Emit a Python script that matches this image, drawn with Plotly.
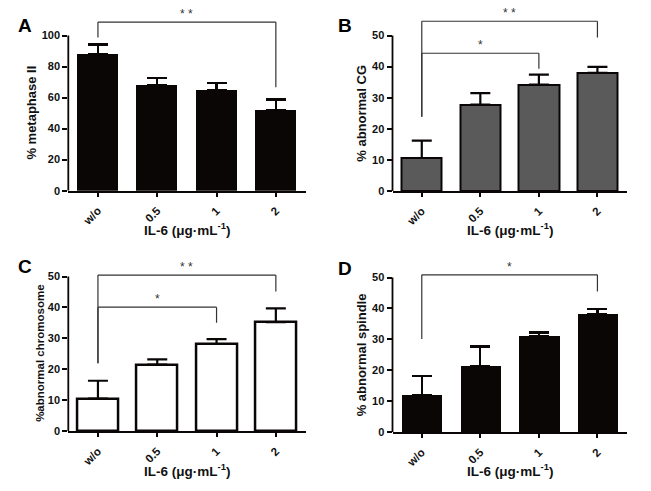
import plotly.graph_objects as go

# ---------------- data ----------------
categories = ["w/o", "0.5", "1", "2"]

a_values = [88.0, 68.2, 64.8, 52.2]
a_errors = [6.3, 4.2, 4.8, 6.6]

b_values = [10.6, 27.8, 34.2, 38.0]
b_errors = [5.6, 3.7, 3.2, 1.9]

c_values = [10.5, 21.5, 28.2, 35.3]
c_errors = [5.8, 1.7, 1.6, 4.4]

d_values = [11.9, 21.3, 31.0, 38.1]
d_errors = [6.2, 6.4, 1.2, 1.8]

a_ticks = [0, 20, 40, 60, 80, 100]
bcd_ticks = [0, 10, 20, 30, 40, 50]

# significance brackets: (from, to, bracket height, left end, right end, label)
a_sig = [(0, 3, 108.7, 98.7, 66.7, "* *")]
b_sig = [(0, 3, 54.6, 23.9, 49.4, "* *"), (0, 2, 44.3, 23.9, 39.3, "*")]
c_sig = [(0, 3, 50.5, 22.0, 45.2, "* *"), (0, 2, 40.1, 22.0, 35.1, "*")]
d_sig = [(0, 3, 50.9, 30.1, 45.5, "*")]

# ---------------- layout helpers ----------------
W, H = 651, 491
FONT = "Liberation Sans, Arial, sans-serif"


def px_x(p):
    return p / W


def px_y(p):
    return 1 - p / H


panels = [
    dict(key="A", values=a_values, errors=a_errors, ticks=a_ticks, sig=a_sig,
         fill="#0a0606", line="#0a0606", lw=0,
         x0=68.3, x1=305.5, ybot=193.0, ymaxpx=36.0, top=4.0,
         ytitle="% metaphase II", ytitle_x=31.5, ytfs=13,
         letter_xy=(24.5, 25.5), xtitle_y=232),
    dict(key="B", values=b_values, errors=b_errors, ticks=bcd_ticks, sig=b_sig,
         fill="#5a5a5a", line="#0a0606", lw=2,
         x0=392.5, x1=626.7, ybot=193.3, ymaxpx=36.0, top=4.0,
         ytitle="% abnormal CG", ytitle_x=361.5, ytfs=13,
         letter_xy=(345, 25.5), xtitle_y=232),
    dict(key="C", values=c_values, errors=c_errors, ticks=bcd_ticks, sig=c_sig,
         fill="#ffffff", line="#0a0606", lw=2.5,
         x0=68.3, x1=305.5, ybot=436.5, ymaxpx=280.0, top=248.0,
         ytitle="%abnormal chromosome", ytitle_x=40, ytfs=11.5,
         letter_xy=(25, 270), xtitle_y=476),
    dict(key="D", values=d_values, errors=d_errors, ticks=bcd_ticks, sig=d_sig,
         fill="#0a0606", line="#0a0606", lw=0,
         x0=392.5, x1=626.7, ybot=437.5, ymaxpx=281.0, top=248.0,
         ytitle="% abnormal spindle", ytitle_x=361.5, ytfs=13,
         letter_xy=(345, 271.5), xtitle_y=476),
]

fig = go.Figure()
annotations = []
shapes = []
xpos = list(range(len(categories)))

for i, p in enumerate(panels):
    n = "" if i == 0 else str(i + 1)
    xa, ya = "x" + n, "y" + n
    ymax = p["ticks"][-1]
    ppu = (p["ybot"] - p["ymaxpx"]) / ymax
    rtop = (p["ybot"] - p["top"]) / ppu

    fig.add_trace(go.Bar(
        x=xpos, y=p["values"], width=0.69,
        marker=dict(color=p["fill"], line=dict(color=p["line"], width=p["lw"])),
        error_y=dict(type="data", symmetric=False, array=p["errors"],
                     arrayminus=[0] * len(p["values"]),
                     color="#0a0606", thickness=2.2, width=10),
        xaxis=xa, yaxis=ya, showlegend=False, hoverinfo="skip",
    ))

    fig.layout["xaxis" + n] = dict(
        domain=[px_x(p["x0"]), px_x(p["x1"])], anchor=ya,
        range=[-0.5, 3.5], tickvals=xpos, ticktext=categories,
        tickangle=-45, ticks="outside", ticklen=4, tickwidth=1.5,
        tickcolor="#0a0606", showline=True, linecolor="#0a0606", linewidth=1.8,
        showgrid=False, zeroline=False, fixedrange=True, ticklabelstandoff=3,
        tickfont=dict(family=FONT, size=11.5, color="#111", weight="bold"),
    )
    fig.layout["yaxis" + n] = dict(
        domain=[px_y(p["ybot"]), px_y(p["top"])], anchor=xa,
        range=[0, rtop], tickvals=p["ticks"], ticks="outside", ticklen=5,
        tickwidth=1.5, tickcolor="#0a0606", showline=False,
        showgrid=False, zeroline=False, fixedrange=True,
        tickfont=dict(family=FONT, size=11, color="#111", weight="bold"),
    )
    # y-axis line only up to top tick
    shapes.append(dict(type="line", xref=xa + " domain", yref=ya,
                       x0=0, x1=0, y0=0, y1=ymax,
                       line=dict(color="#0a0606", width=1.8)))

    # significance brackets
    for (s0, s1, yb, yl, yr, lab) in p["sig"]:
        shapes.append(dict(type="line", xref=xa, yref=ya, x0=s0, x1=s0, y0=yl, y1=yb,
                           line=dict(color="#333", width=1.2)))
        shapes.append(dict(type="line", xref=xa, yref=ya, x0=s0, x1=s1, y0=yb, y1=yb,
                           line=dict(color="#333", width=1.2)))
        shapes.append(dict(type="line", xref=xa, yref=ya, x0=s1, x1=s1, y0=yb, y1=yr,
                           line=dict(color="#333", width=1.2)))
        annotations.append(dict(text=lab, xref=xa, yref=ya, x=(s0 + s1) / 2, y=yb,
                                yanchor="bottom", xanchor="center", showarrow=False,
                                yshift=-1,
                                font=dict(family=FONT, size=12, color="#333")))

    # y title
    annotations.append(dict(text=p["ytitle"], xref="paper", yref="paper",
                            x=px_x(p["ytitle_x"]),
                            y=px_y((p["ybot"] + p["ymaxpx"]) / 2),
                            textangle=-90, showarrow=False,
                            xanchor="center", yanchor="middle",
                            font=dict(family=FONT, size=p["ytfs"], color="#111",
                                      weight="bold")))
    # x title
    annotations.append(dict(text="IL-6 (μg·mL<sup>-1</sup>)", xref="paper", yref="paper",
                            x=px_x((p["x0"] + p["x1"]) / 2), y=px_y(p["xtitle_y"]),
                            showarrow=False, xanchor="center", yanchor="middle",
                            font=dict(family=FONT, size=13.5, color="#111",
                                      weight="bold")))
    # panel letter
    lx, ly = p["letter_xy"]
    annotations.append(dict(text=p["key"], xref="paper", yref="paper",
                            x=px_x(lx), y=px_y(ly), showarrow=False,
                            xanchor="center", yanchor="middle",
                            font=dict(family=FONT, size=19, color="#000",
                                      weight="bold")))

fig.update_layout(
    width=W, height=H, margin=dict(l=0, r=0, t=0, b=0),
    paper_bgcolor="white", plot_bgcolor="white",
    annotations=annotations, shapes=shapes, bargap=0,
)

fig.write_html("out.html", config={"displayModeBar": False},
               post_script="document.body.style.margin='0px';")
